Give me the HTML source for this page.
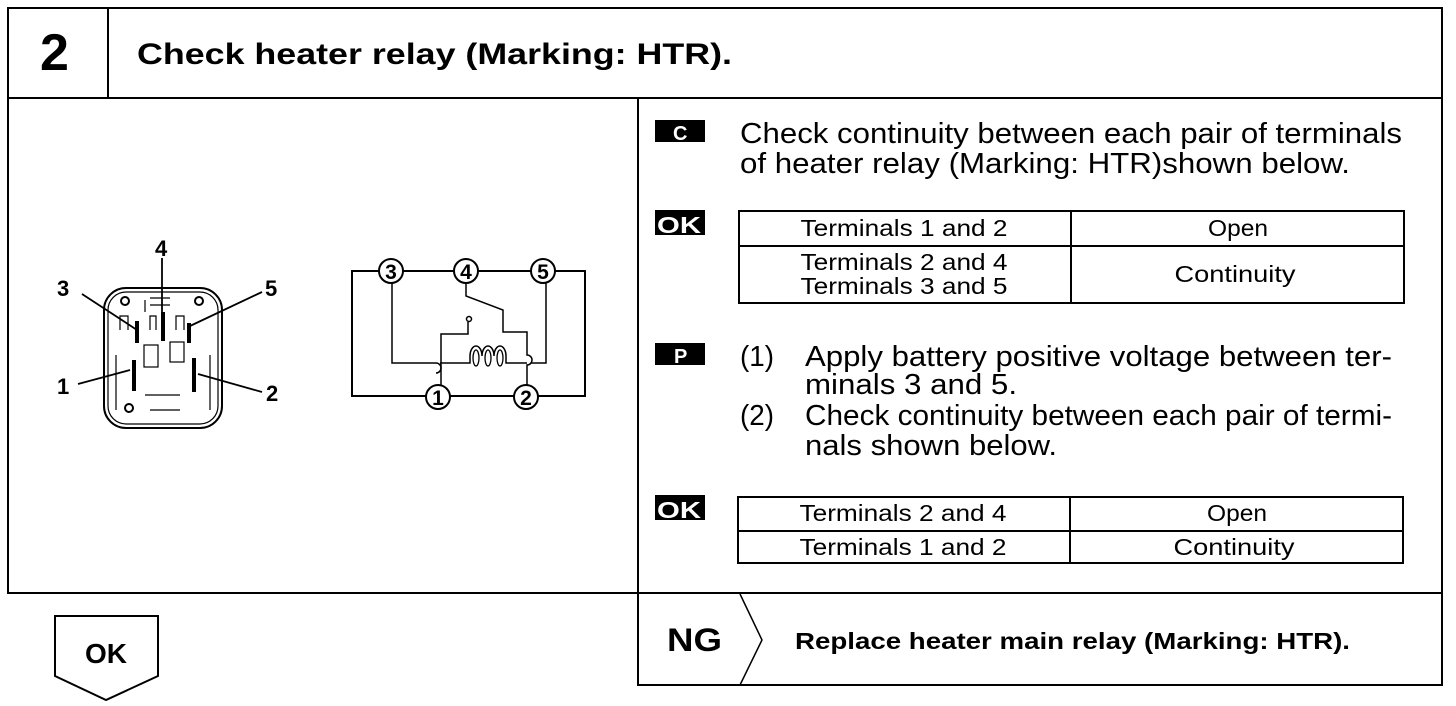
<!DOCTYPE html>
<html><head><meta charset="utf-8"><style>
html,body{margin:0;padding:0;background:#fff;width:1456px;height:706px;overflow:hidden}
svg{display:block}
text{font-family:"Liberation Sans",sans-serif;fill:#000}
.b{font-weight:bold}
</style></head><body>
<svg width="1456" height="706" viewBox="0 0 1456 706" xmlns="http://www.w3.org/2000/svg">
<g fill="none" stroke="#000" stroke-width="2">
<rect x="8" y="8" width="1434" height="585"/>
<line x1="8" y1="98" x2="1442" y2="98"/>
<line x1="108" y1="8" x2="108" y2="98"/>
<line x1="638" y1="98" x2="638" y2="685"/>
<rect x="638" y="593" width="804" height="92"/>
<polyline points="740,594 762,640 740,685" stroke-width="1.5"/>
<polygon points="55,616 158,616 158,676 106,700 55,676"/>
<rect x="739" y="211" width="665" height="92"/>
<line x1="739" y1="246" x2="1404" y2="246"/>
<line x1="1071" y1="211" x2="1071" y2="303"/>
<rect x="738" y="497" width="665" height="66"/>
<line x1="738" y1="531" x2="1403" y2="531"/>
<line x1="1070" y1="497" x2="1070" y2="563"/>
</g>
<text x="40" y="70" class="b" font-size="52">2</text>
<text x="137" y="64" class="b" font-size="30" textLength="595" lengthAdjust="spacingAndGlyphs">Check heater relay (Marking: HTR).</text>
<rect x="655" y="120" width="50" height="22" fill="#000"/><text x="673" y="140" class="b" font-size="20" style="fill:#fff">C</text>
<rect x="655" y="210" width="50" height="25" fill="#000"/><text x="657" y="233" class="b" font-size="23" style="fill:#fff" textLength="44" lengthAdjust="spacingAndGlyphs">OK</text>
<rect x="655" y="343" width="50" height="22" fill="#000"/><text x="674" y="363" class="b" font-size="20" style="fill:#fff">P</text>
<rect x="655" y="495" width="50" height="25" fill="#000"/><text x="657" y="518" class="b" font-size="23" style="fill:#fff" textLength="44" lengthAdjust="spacingAndGlyphs">OK</text>
<g font-size="29">
<text x="740" y="143" textLength="662" lengthAdjust="spacingAndGlyphs">Check continuity between each pair of terminals</text>
<text x="740" y="173" textLength="610" lengthAdjust="spacingAndGlyphs">of heater relay  (Marking: HTR)shown below.</text>
<text x="740" y="366" textLength="34" lengthAdjust="spacingAndGlyphs">(1)</text>
<text x="805" y="366" textLength="587" lengthAdjust="spacingAndGlyphs">Apply battery positive voltage between ter-</text>
<text x="805" y="394" textLength="212" lengthAdjust="spacingAndGlyphs">minals 3 and 5.</text>
<text x="740" y="425" textLength="34" lengthAdjust="spacingAndGlyphs">(2)</text>
<text x="805" y="425" textLength="587" lengthAdjust="spacingAndGlyphs">Check continuity between each pair of termi-</text>
<text x="805" y="455" textLength="252" lengthAdjust="spacingAndGlyphs">nals shown below.</text>
</g>
<g font-size="23" text-anchor="middle">
<text x="904" y="236" textLength="207" lengthAdjust="spacingAndGlyphs">Terminals 1 and 2</text>
<text x="1238" y="236" textLength="60" lengthAdjust="spacingAndGlyphs">Open</text>
<text x="904" y="270" textLength="207" lengthAdjust="spacingAndGlyphs">Terminals 2 and 4</text>
<text x="904" y="294" textLength="207" lengthAdjust="spacingAndGlyphs">Terminals 3 and 5</text>
<text x="1235" y="282" textLength="121" lengthAdjust="spacingAndGlyphs">Continuity</text>
<text x="903" y="521" textLength="207" lengthAdjust="spacingAndGlyphs">Terminals 2 and 4</text>
<text x="1237" y="521" textLength="60" lengthAdjust="spacingAndGlyphs">Open</text>
<text x="903" y="555" textLength="207" lengthAdjust="spacingAndGlyphs">Terminals 1 and 2</text>
<text x="1234" y="555" textLength="121" lengthAdjust="spacingAndGlyphs">Continuity</text>
</g>
<text x="667" y="651" class="b" font-size="32" textLength="55" lengthAdjust="spacingAndGlyphs">NG</text>
<text x="795" y="649" class="b" font-size="23" textLength="555" lengthAdjust="spacingAndGlyphs">Replace heater main relay (Marking: HTR).</text>
<text x="106" y="663" class="b" font-size="28" text-anchor="middle">OK</text>
<g fill="none" stroke="#000" stroke-width="2">
<rect x="104" y="288" width="118" height="140" rx="22"/>
<rect x="108" y="292" width="110" height="132" rx="18" stroke-width="1.2"/>
<path d="M120 330 v-14 h8 v14 M150 330 v-14 h6 v14 M176 330 v-14 h8 v14 M116 355 v55 M210 355 v55 M145 395 h35 M150 410 h30 M145 300 v12 M150 298 h20 M150 305 h20" stroke-width="1.2"/>
<circle cx="125" cy="301" r="4"/><circle cx="199" cy="301" r="4"/><circle cx="129" cy="408" r="4"/>
<rect x="144" y="345" width="14" height="22" stroke-width="1.2"/><rect x="170" y="342" width="14" height="20" stroke-width="1.2"/>
</g>
<g stroke="#000" stroke-width="4">
<line x1="137" y1="321" x2="137" y2="343"/>
<line x1="163" y1="312" x2="163" y2="341"/>
<line x1="189" y1="323" x2="189" y2="343"/>
<line x1="134" y1="360" x2="134" y2="391"/>
<line x1="194" y1="358" x2="194" y2="392"/>
</g>
<g stroke="#000" stroke-width="1.8">
<line x1="82" y1="294" x2="137" y2="330"/>
<line x1="262" y1="292" x2="190" y2="326"/>
<line x1="78" y1="384" x2="130" y2="370"/>
<line x1="262" y1="392" x2="198" y2="374"/>
<line x1="162" y1="258" x2="162" y2="312"/>
</g>
<g font-size="22" class="b">
<text x="155" y="256">4</text><text x="57" y="296">3</text><text x="265" y="296">5</text>
<text x="57" y="394">1</text><text x="266" y="401">2</text>
</g>
<g fill="none" stroke="#000" stroke-width="2">
<path d="M379 271 H352 V396 H426 M450 396 H514 M538 396 H585 V271 H555 M531 271 H478 M454 271 H403"/>
<circle cx="391" cy="271" r="12"/><circle cx="466" cy="271" r="12"/><circle cx="543" cy="271" r="12"/>
<circle cx="438" cy="397" r="12"/><circle cx="526" cy="397" r="12"/>
<path d="M392 283 V363 H436 a5 5 0 0 1 0 10" stroke-width="1.5"/>
<path d="M441 385 V334 H468 V322" stroke-width="1.5"/>
<circle cx="469" cy="319" r="2.5" stroke-width="1.5"/>
<path d="M466 283 V296 L503 310 V332 H527 V355 a5 5 0 0 1 0 10 V385" stroke-width="1.5"/>
<path d="M546 283 V363 H531" stroke-width="1.5"/>
<path d="M440 363 H470 V356 a6 10 0 0 1 12 0 a6 10 0 0 1 12 0 a6 10 0 0 1 12 0 V363 H527" stroke-width="1.5"/>
<ellipse cx="476" cy="358" rx="3" ry="8" stroke-width="1.3"/><ellipse cx="488" cy="358" rx="3" ry="8" stroke-width="1.3"/><ellipse cx="500" cy="358" rx="3" ry="8" stroke-width="1.3"/>
</g>
<g font-size="21" class="b" text-anchor="middle">
<text x="391" y="279">3</text><text x="466" y="279">4</text><text x="543" y="279">5</text>
<text x="438" y="405">1</text><text x="526" y="405">2</text>
</g>
</svg>
</body></html>
